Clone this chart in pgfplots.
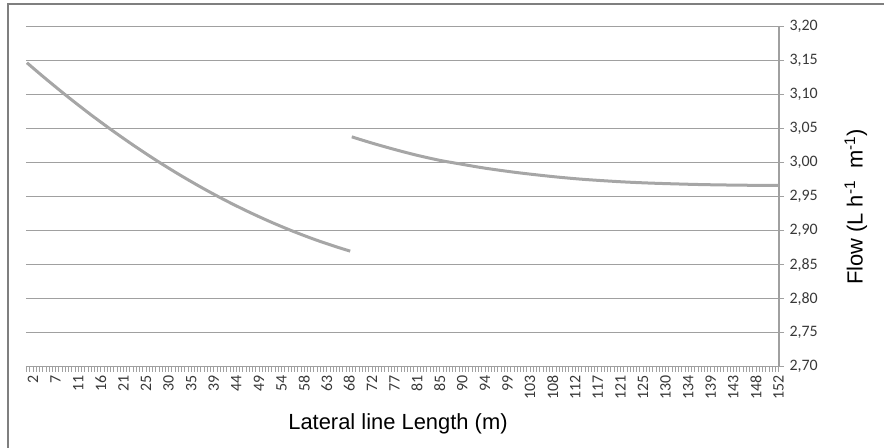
\documentclass[border=0pt]{standalone}
\usepackage{pgfplots}
\pgfplotsset{compat=1.18}
\usepackage{fontspec}
\setmainfont{Liberation Sans}
\newfontfamily\calib{Carlito}
\definecolor{gridc}{HTML}{A0A0A0}
\definecolor{linec}{HTML}{A6A6A6}
\definecolor{tickc}{HTML}{383838}
\definecolor{framec}{HTML}{7F7F7F}
\begin{document}
\begin{tikzpicture}
\useasboundingbox (0bp,0bp) rectangle (884bp,448bp);
\draw[framec, line width=1.8bp] (8bp,-10bp) -- (8bp,444bp) -- (900bp,444bp);
\begin{axis}[
    at={(26bp,81.3bp)}, anchor=south west,
    width=753bp, height=340bp, scale only axis,
    xmin=-0.31, xmax=33.02,
    ymin=2.70, ymax=3.20,
    axis x line=bottom, axis y line=right,
    axis line style={-, gridc, line width=1.2bp},
    ymajorgrids,
    grid style={gridc, line width=1.2bp},
    tick align=outside,
    major tick length=5bp, minor tick length=5bp,
    tick style={gridc, line width=0.7bp},
    xtick={-1,0,...,33},
    xticklabels={,2,7,11,16,21,25,30,35,39,44,49,54,58,63,68,72,77,81,85,90,94,99,103,108,112,117,121,125,130,134,139,143,148,152},
    minor x tick num=6,
    ytick={2.70,2.75,2.80,2.85,2.90,2.95,3.00,3.05,3.10,3.15,3.20},
    /pgf/number format/.cd, use comma, fixed, fixed zerofill, precision=2, assume math mode=true,
    /pgfplots/.cd,
    yticklabel style={font=\calib\fontsize{16}{19}\selectfont, text=tickc, anchor=west, xshift=2bp},
    xticklabel style={font=\calib\fontsize{16}{19}\selectfont, text=tickc, rotate=90, anchor=east},
    xlabel={Lateral line Length (m)},
    ylabel={Flow (L h\textsuperscript{-1}\ \ m\textsuperscript{-1})},
    every axis x label/.style={at={(axis description cs:0.494,-0.186)}, anchor=base, font=\fontsize{22}{26}\selectfont},
    every axis y label/.style={at={(axis description cs:1.102,0.470)}, anchor=center, rotate=90, font=\fontsize{22}{26}\selectfont},
    clip=false,
]
% first lateral section
\addplot[linec, line width=3bp, smooth, no marks] coordinates {
    (-0.27,3.1470) (0.5,3.1252) (1.5,3.0980) (2.5,3.0721) (3.5,3.0476)
    (4.5,3.0244) (5.5,3.0025) (6.5,2.9820) (7.5,2.9628) (8.5,2.9449)
    (9.5,2.9284) (10.5,2.9132) (11.5,2.8993) (12.5,2.8867) (13.5,2.8755)
    (14.04,2.8700)
};
% second lateral section
\addplot[linec, line width=3bp, smooth, no marks] coordinates {
    (14.11,3.0380) (15,3.0289) (16,3.0195) (17,3.0109) (18,3.0035)
    (18.76,2.9990) (20,2.9920) (21.42,2.9855) (23,2.9796) (24.37,2.9755)
    (26,2.9720) (27.33,2.9700) (29,2.9683) (30.28,2.9674) (32,2.9667)
    (33,2.9665)
};
\end{axis}
\end{tikzpicture}
\end{document}
